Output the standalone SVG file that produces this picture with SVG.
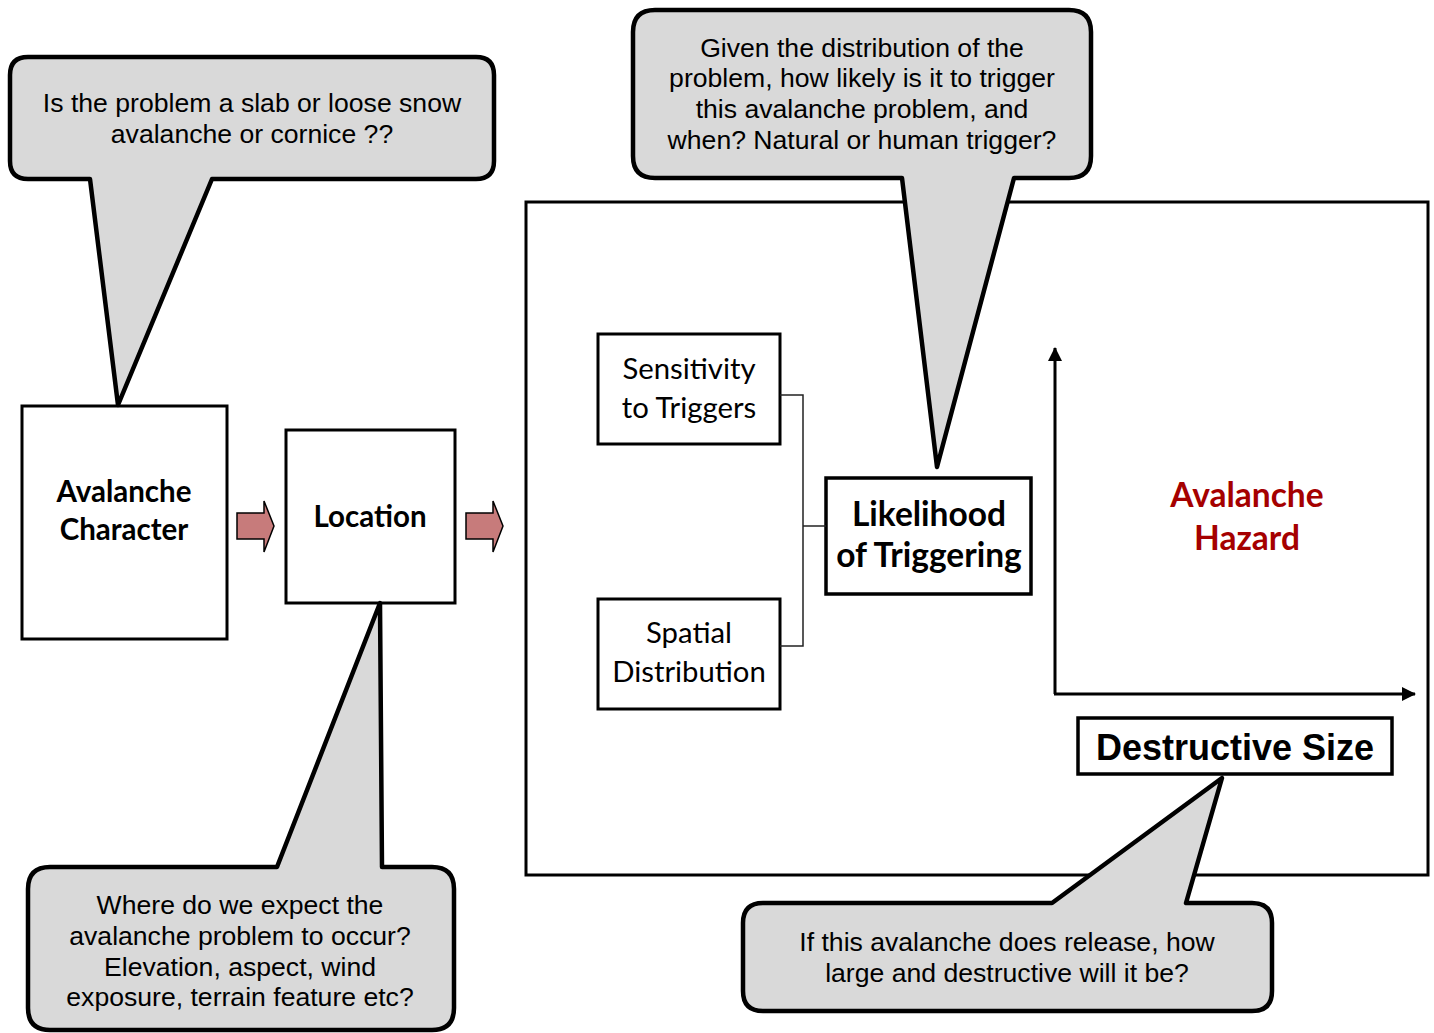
<svg xmlns="http://www.w3.org/2000/svg" width="1434" height="1033" viewBox="0 0 1434 1033">
<defs>
<style>
.box{fill:#fff;stroke:#000;stroke-width:3}
.callout{fill:#d9d9d9;stroke:#000;stroke-width:4.5;stroke-linejoin:round}
.ct{font-family:"Liberation Sans",Arial,sans-serif;font-size:26.6px;fill:#000;text-anchor:middle}
.nt{font-family:Lato,"Open Sans",sans-serif;font-size:29.3px;fill:#000;text-anchor:middle}
.nb{font-family:Lato,"Open Sans",sans-serif;font-weight:bold;font-size:29.5px;fill:#000;text-anchor:middle}
.blk{fill:#c77b7b;stroke:#000;stroke-width:1.5;stroke-linejoin:miter}
.thin{fill:none;stroke:#222;stroke-width:1.5}
.axis{fill:none;stroke:#000;stroke-width:3}
</style>
<marker id="ah" markerUnits="userSpaceOnUse" markerWidth="14" markerHeight="14" refX="13" refY="7" orient="auto">
<path d="M0,0 L14,7 L0,14 Z" fill="#000"/>
</marker>
</defs>
<rect width="1434" height="1033" fill="#fff"/>

<g id="hazard-frame">
<rect x="526" y="202" width="902" height="673" fill="#fff" stroke="#000" stroke-width="3"/>
</g>

<g id="avalanche-character">
<rect class="box" x="22" y="406" width="205" height="233"/>
<text class="nb" x="124" y="502">Avalanche</text>
<text class="nb" x="124" y="540">Character</text>
</g>

<g id="location">
<rect class="box" x="286" y="430" width="169" height="173"/>
<text class="nb" x="370" y="527">Location</text>
</g>

<g id="sensitivity">
<rect class="box" x="598" y="334" width="182" height="110"/>
<text class="nt" x="689" y="379">Sensitivity</text>
<text class="nt" x="689" y="418">to Triggers</text>
</g>

<g id="spatial">
<rect class="box" x="598" y="599" width="182" height="110"/>
<text class="nt" x="689" y="643">Spatial</text>
<text class="nt" x="689" y="682">Distribution</text>
</g>

<g id="likelihood">
<rect x="826" y="478" width="205" height="116" fill="#fff" stroke="#000" stroke-width="3.5"/>
<text class="nb" x="929" y="526" style="font-size:33.5px">Likelihood</text>
<text class="nb" x="929" y="567" style="font-size:33.5px">of Triggering</text>
</g>

<g id="avalanche-hazard">
<text class="nb" x="1247" y="507" style="font-size:33.5px;fill:#a50000">Avalanche</text>
<text class="nb" x="1247" y="550" style="font-size:33.5px;fill:#a50000">Hazard</text>
</g>

<g id="destructive-size">
<rect x="1078" y="718" width="314" height="56" fill="#fff" stroke="#000" stroke-width="3.5"/>
<text x="1235" y="760" text-anchor="middle" style="font-family:'Liberation Sans',Arial,sans-serif;font-weight:bold;font-size:36px">Destructive Size</text>
</g>

<g id="connectors">
<polygon class="blk" points="237,513 264,513 264,501 274,526 264,552 264,539 237,539"/>
<polygon class="blk" points="466,513 493,513 493,501 503,526 493,552 493,539 466,539"/>
<polyline class="thin" points="780,395 803,395 803,646 780,646"/>
<line class="thin" x1="803" y1="526" x2="826" y2="526"/>
<line class="axis" x1="1055" y1="694" x2="1055" y2="348" marker-end="url(#ah)"/>
<line class="axis" x1="1054" y1="694" x2="1415" y2="694" marker-end="url(#ah)"/>
</g>

<g id="callout-character">
<path class="callout" d="M28,57 H476 Q494,57 494,75 V161 Q494,179 476,179 H212 L118,405 L90,179 H28 Q10,179 10,161 V75 Q10,57 28,57 Z"/>
<text class="ct" x="252" y="112">Is the problem a slab or loose snow</text>
<text class="ct" x="252" y="143">avalanche or cornice ??</text>
</g>

<g id="callout-likelihood">
<path class="callout" d="M655,10 H1069 Q1091,10 1091,32 V156 Q1091,178 1069,178 H1014 L937,467 L902,178 H655 Q633,178 633,156 V32 Q633,10 655,10 Z"/>
<text class="ct" x="862" y="57">Given the distribution of the</text>
<text class="ct" x="862" y="87">problem, how likely is it to trigger</text>
<text class="ct" x="862" y="118">this avalanche problem, and</text>
<text class="ct" x="862" y="149">when? Natural or human trigger?</text>
</g>

<g id="callout-location">
<path class="callout" d="M50,867 H277 L380,603 L382,867 H432 Q454,867 454,889 V1008 Q454,1030 432,1030 H50 Q28,1030 28,1008 V889 Q28,867 50,867 Z"/>
<text class="ct" x="240" y="914">Where do we expect the</text>
<text class="ct" x="240" y="945">avalanche problem to occur?</text>
<text class="ct" x="240" y="976">Elevation, aspect, wind</text>
<text class="ct" x="240" y="1006">exposure, terrain feature etc?</text>
</g>

<g id="callout-size">
<path class="callout" d="M763,903 H1052 L1222,778 L1186,903 H1252 Q1272,903 1272,923 V991 Q1272,1011 1252,1011 H763 Q743,1011 743,991 V923 Q743,903 763,903 Z"/>
<text class="ct" x="1007" y="951">If this avalanche does release, how</text>
<text class="ct" x="1007" y="982">large and destructive will it be?</text>
</g>
</svg>
